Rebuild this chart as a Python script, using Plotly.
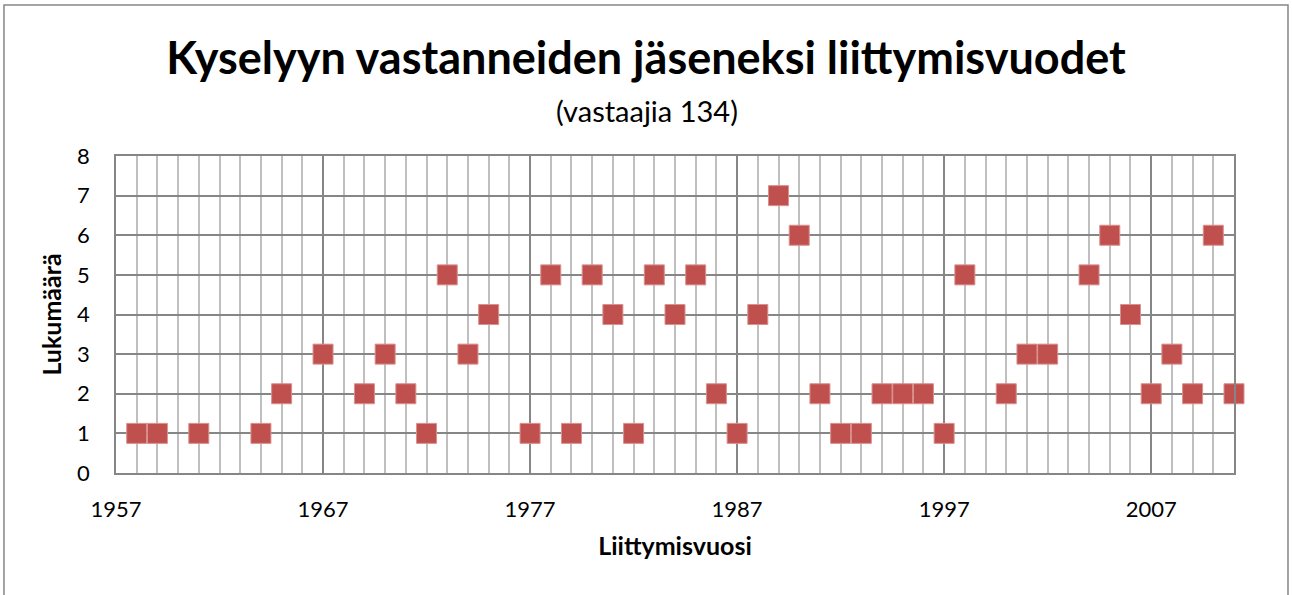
import plotly.graph_objects as go

# Liittymisvuodet ja vastaajien lukumäärät
vuodet = [1958, 1959, 1961, 1964, 1965, 1967, 1969, 1970, 1971, 1972,
          1973, 1974, 1975, 1977, 1978, 1979, 1980, 1981, 1982, 1983,
          1984, 1985, 1986, 1987, 1988, 1989, 1990, 1991, 1992, 1993,
          1994, 1995, 1996, 1997, 1998, 2000, 2001, 2002, 2004, 2005,
          2006, 2007, 2008, 2009, 2010, 2011]
lukumaarat = [1, 1, 1, 1, 2, 3, 2, 3, 2, 1,
              5, 3, 4, 1, 5, 1, 5, 4, 1, 5,
              4, 5, 2, 1, 4, 7, 6, 2, 1, 1,
              2, 2, 2, 1, 5, 2, 3, 3, 5, 6,
              4, 2, 3, 2, 6, 2]

FONT = "Lato"
MAJOR = "#868686"
MINOR = "#BFBFBF"

fig = go.Figure()
fig.add_trace(go.Scatter(
    x=vuodet,
    y=lukumaarat,
    mode="markers",
    marker=dict(symbol="square", size=20, color="#C0504D",
                line=dict(color="#D9908E", width=1)),
    cliponaxis=False,
    showlegend=False,
))

fig.update_xaxes(
    range=[1957, 2011],
    tick0=1957, dtick=10,
    showgrid=True, gridcolor=MAJOR, gridwidth=1.5,
    minor=dict(dtick=1, showgrid=True, gridcolor=MINOR, gridwidth=1.5),
    showline=True, linecolor=MAJOR, linewidth=1.5, mirror=True,
    zeroline=False,
    ticks="", ticklabelstandoff=16,
    tickfont=dict(family=FONT, size=22, color="black"),
    title=dict(text="<b>Liittymisvuosi</b>", standoff=16,
               font=dict(family=FONT, size=25, color="black")),
)
fig.update_yaxes(
    range=[0, 8], dtick=1,
    showgrid=True, gridcolor=MAJOR, gridwidth=1.5,
    showline=True, linecolor=MAJOR, linewidth=1.5, mirror=True,
    zeroline=False,
    ticks="", ticklabelstandoff=20,
    tickfont=dict(family=FONT, size=22, color="black"),
    title=dict(text="<b>Lukumäärä</b>", standoff=8,
               font=dict(family=FONT, size=25, color="black")),
)

# Kaavion ulkoreunus
fig.add_shape(type="rect", xref="paper", yref="paper",
              x0=-0.1002, x1=1.0483, y0=-0.5, y1=1.476,
              line=dict(color=MAJOR, width=1.5), layer="below")

fig.add_annotation(text="(vastaajia 134)", xref="paper", yref="paper",
                   x=0.475, y=1.145, yanchor="middle", showarrow=False,
                   font=dict(family=FONT, size=29, color="black"))

fig.update_layout(
    width=1292, height=595,
    margin=dict(l=116, r=58, t=156, b=122),
    paper_bgcolor="white", plot_bgcolor="white",
    title=dict(text="<b>Kyselyyn vastanneiden jäseneksi liittymisvuodet</b>",
               x=0.5, xanchor="center", y=0.9025, yanchor="middle",
               font=dict(family=FONT, size=45, color="black")),
)

fig.write_html("out.html", config={"displayModeBar": False},
               post_script="document.body.style.margin='0';")
